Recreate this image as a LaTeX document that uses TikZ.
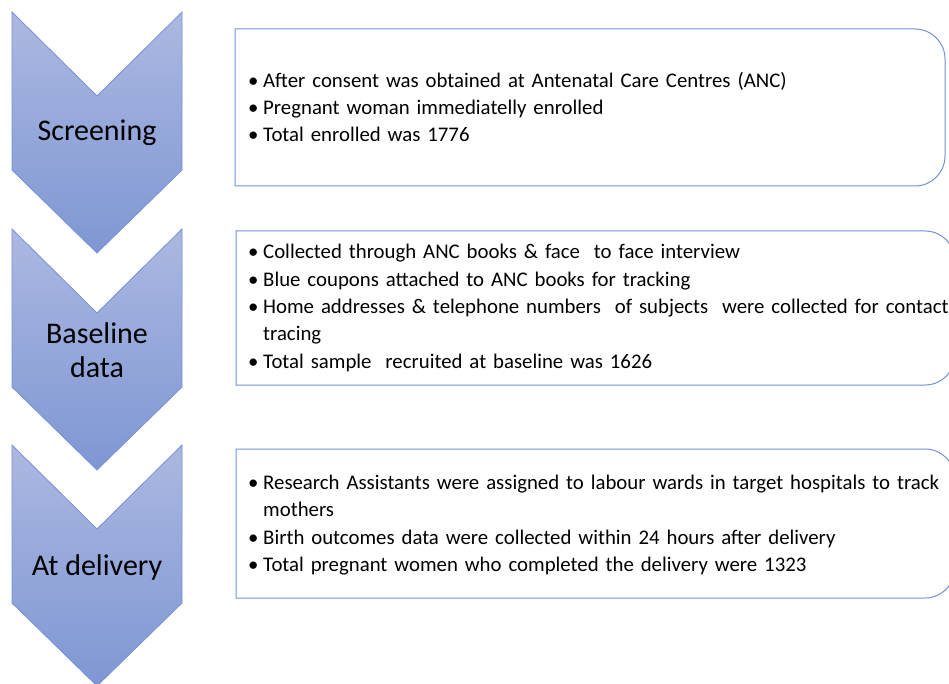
\documentclass[tikz,border=0pt]{standalone}
\usepackage{fontspec}
\setmainfont{Carlito}
\definecolor{chevtop}{RGB}{172,184,225}
\definecolor{chevbot}{RGB}{126,151,211}
\definecolor{chevline}{RGB}{118,145,212}
\definecolor{boxline}{RGB}{114,145,216}
\newcommand{\bitem}[1]{\hangindent=15pt\hangafter=1\noindent\makebox[15pt][l]{•}#1\par}
\tikzset{
  chevshape/.style={top color=chevtop, bottom color=chevbot, draw=chevline, line width=0.8pt, line join=miter},
  chevlabel/.style={font=\fontsize{30}{34}\selectfont, align=center, inner sep=0pt},
  infobox/.style={draw=boxline, line width=1pt, fill=white},
  infotext/.style={font=\fontsize{20.8}{27.3}\selectfont, text width=720pt, inner sep=0pt, anchor=west, align=left}
}
\begin{document}
\begin{tikzpicture}[x=1pt,y=-1pt]
\useasboundingbox (0,0) rectangle (949,684);
\clip (0,0) rectangle (949,684);
% chevrons
\foreach \T in {12,229,445}{
  \draw[chevshape] (12,\T) -- (97,\T+84) -- (182,\T) -- (182,\T+158) -- (97,\T+241) -- (12,\T+158) -- cycle;
}
\node[chevlabel] (l1) at (97,133) {Screening};
\node[chevlabel] (l2) at (97,350) {Baseline\\data};
\node[chevlabel] (l3) at (97,567) {At delivery};
% boxes
\draw[infobox] (235,29) -- (915,29) arc[start angle=-90,end angle=0,radius=30] -- (945,156) arc[start angle=0,end angle=90,radius=30] -- (235,186) -- cycle;
\draw[infobox] (236,231) -- (925,231) arc[start angle=-90,end angle=0,radius=30] -- (955,355) arc[start angle=0,end angle=90,radius=30] -- (236,385) -- cycle;
\draw[infobox] (236,449) -- (925,449) arc[start angle=-90,end angle=0,radius=30] -- (955,568) arc[start angle=0,end angle=90,radius=30] -- (236,598) -- cycle;
% texts
\node[infotext] (t1) at (248,107) {%
\bitem{After consent was obtained at Antenatal Care Centres (ANC)}
\bitem{Pregnant woman immediatelly enrolled}
\bitem{Total enrolled was 1776}};
\node[infotext] (t2) at (248,308) {%
\bitem{Collected through ANC books \& face\ \ to face interview}
\bitem{Blue coupons attached to ANC books for tracking}
\bitem{Home addresses \& telephone numbers\ \ of subjects\ \ were collected for contact\newline tracing}
\bitem{Total sample\ \ recruited at baseline was 1626}};
\node[infotext] (t3) at (248,525) {%
\bitem{Research Assistants were assigned to labour wards in target hospitals to track\newline mothers}
\bitem{Birth outcomes data were collected within 24 hours after delivery}
\bitem{Total pregnant women who completed the delivery were 1323}};
\end{tikzpicture}
\end{document}
